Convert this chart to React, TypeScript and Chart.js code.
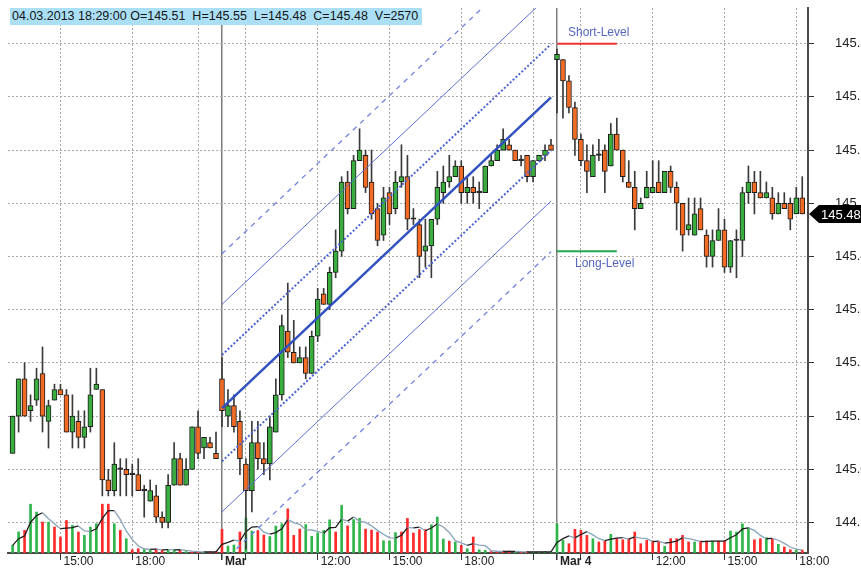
import { useEffect, useRef } from 'react';
import { Chart, registerables } from 'chart.js';

Chart.register(...registerables);

// ---- Data (15-minute bars; index 0 = Feb 28 13:00, 35 = Mar 1 08:00, 91 = Mar 4 08:00) ----
const OPEN = [
  145.03, 145.10, 145.17, 145.11, 145.13, 145.18, 145.09, 145.13, 145.15, 145.14,
  145.07, 145.09, 145.06, 145.08, 145.15, 145.15, 144.98, 144.96, 145.00, 145.00,
  144.99, 144.99, 144.96, 144.94, 144.95, 144.91, 144.90, 144.97, 145.02, 144.97,
  145.00, 145.08, 145.04, 145.05, 145.03,
  145.17, 145.10, 145.12, 145.09, 145.01, 144.96, 145.05, 145.02, 145.01, 145.07,
  145.14, 145.26, 145.22, 145.20, 145.21, 145.18, 145.25, 145.33, 145.31, 145.37,
  145.41, 145.54, 145.49, 145.58, 145.59, 145.54, 145.49, 145.44, 145.52, 145.49,
  145.54, 145.55, 145.47, 145.46, 145.41, 145.42, 145.47, 145.52, 145.54, 145.55,
  145.57, 145.52, 145.53, 145.52, 145.52, 145.57, 145.58, 145.60, 145.61, 145.60,
  145.58, 145.59, 145.55, 145.58, 145.59, 145.61,
  145.77, 145.77, 145.73, 145.68, 145.62, 145.58, 145.55, 145.59, 145.60, 145.57,
  145.63, 145.60, 145.54, 145.53, 145.49, 145.51, 145.52, 145.54, 145.52, 145.56,
  145.53, 145.50, 145.45, 145.44, 145.49, 145.44, 145.40, 145.43, 145.45, 145.38,
  145.43, 145.43, 145.52, 145.54, 145.52, 145.51, 145.51, 145.48, 145.50, 145.50,
  145.48, 145.51,
];
const HIGH = [
  145.10, 145.17, 145.20, 145.14, 145.19, 145.23, 145.13, 145.16, 145.16, 145.15,
  145.14, 145.11, 145.11, 145.19, 145.19, 145.15, 145.00, 145.05, 145.02, 145.02,
  145.01, 145.02, 144.97, 144.98, 144.97, 144.92, 144.99, 145.05, 145.03, 145.02,
  145.08, 145.11, 145.06, 145.06, 145.07,
  145.21, 145.15, 145.14, 145.11, 145.02, 145.09, 145.09, 145.05, 145.10, 145.17,
  145.29, 145.35, 145.28, 145.23, 145.23, 145.26, 145.34, 145.34, 145.38, 145.45,
  145.55, 145.56, 145.59, 145.64, 145.60, 145.60, 145.50, 145.53, 145.53, 145.56,
  145.61, 145.59, 145.49, 145.47, 145.47, 145.47, 145.56, 145.57, 145.59, 145.58,
  145.58, 145.55, 145.55, 145.54, 145.57, 145.59, 145.61, 145.64, 145.62, 145.60,
  145.59, 145.59, 145.58, 145.59, 145.61, 145.62,
  145.79, 145.77, 145.74, 145.69, 145.63, 145.61, 145.61, 145.62, 145.61, 145.65,
  145.66, 145.60, 145.58, 145.56, 145.51, 145.56, 145.58, 145.58, 145.56, 145.57,
  145.54, 145.50, 145.51, 145.51, 145.51, 145.45, 145.45, 145.49, 145.47, 145.43,
  145.45, 145.53, 145.57, 145.56, 145.56, 145.54, 145.53, 145.52, 145.52, 145.51,
  145.53, 145.55,
];
const LOW = [
  145.03, 145.07, 145.10, 145.09, 145.12, 145.07, 145.04, 145.13, 145.14, 145.07,
  145.04, 145.04, 145.04, 145.07, 145.15, 144.95, 144.95, 144.95, 144.95, 144.95,
  144.95, 144.96, 144.91, 144.94, 144.90, 144.89, 144.89, 144.97, 144.97, 144.97,
  145.00, 145.02, 145.02, 145.04, 145.02,
  145.08, 145.08, 145.07, 144.99, 144.85, 144.92, 145.00, 144.99, 144.98, 145.07,
  145.13, 145.21, 145.20, 145.20, 145.17, 145.18, 145.24, 145.31, 145.30, 145.36,
  145.40, 145.48, 145.49, 145.58, 145.52, 145.47, 145.42, 145.43, 145.46, 145.48,
  145.53, 145.45, 145.46, 145.36, 145.38, 145.36, 145.46, 145.50, 145.53, 145.55,
  145.50, 145.50, 145.50, 145.49, 145.52, 145.57, 145.58, 145.60, 145.60, 145.58,
  145.57, 145.54, 145.54, 145.58, 145.58, 145.60,
  145.67, 145.66, 145.67, 145.59, 145.57, 145.52, 145.55, 145.58, 145.52, 145.57,
  145.60, 145.54, 145.53, 145.45, 145.49, 145.51, 145.52, 145.52, 145.52, 145.52,
  145.45, 145.41, 145.44, 145.44, 145.45, 145.38, 145.38, 145.43, 145.37, 145.37,
  145.36, 145.40, 145.50, 145.48, 145.51, 145.51, 145.47, 145.48, 145.49, 145.45,
  145.48, 145.48,
];
const CLOSE = [
  145.10, 145.17, 145.10, 145.12, 145.17, 145.10, 145.12, 145.15, 145.14, 145.07,
  145.10, 145.06, 145.08, 145.14, 145.16, 144.98, 144.96, 145.01, 145.00, 144.99,
  144.99, 144.96, 144.96, 144.96, 144.91, 144.90, 144.97, 145.02, 144.97, 145.00,
  145.08, 145.03, 145.06, 145.04, 145.02,
  145.11, 145.12, 145.08, 145.02, 144.96, 145.05, 145.02, 145.01, 145.08, 145.14,
  145.27, 145.22, 145.20, 145.21, 145.18, 145.25, 145.32, 145.31, 145.37, 145.41,
  145.54, 145.49, 145.58, 145.60, 145.53, 145.48, 145.43, 145.51, 145.48, 145.54,
  145.55, 145.47, 145.47, 145.40, 145.42, 145.47, 145.53, 145.54, 145.55, 145.57,
  145.52, 145.53, 145.52, 145.52, 145.57, 145.58, 145.60, 145.62, 145.60, 145.58,
  145.58, 145.55, 145.58, 145.59, 145.60, 145.60,
  145.78, 145.73, 145.68, 145.62, 145.58, 145.56, 145.59, 145.59, 145.56, 145.63,
  145.60, 145.55, 145.53, 145.49, 145.50, 145.53, 145.53, 145.52, 145.56, 145.53,
  145.50, 145.44, 145.46, 145.48, 145.45, 145.40, 145.43, 145.45, 145.38, 145.43,
  145.43, 145.52, 145.54, 145.52, 145.51, 145.52, 145.48, 145.50, 145.49, 145.47,
  145.51, 145.48,
];
const VOLUME = [
  6600, 18100, 19500, 42100, 35300, 26700, 26700, 22400, 13800, 28100,
  23800, 18100, 15200, 22400, 25200, 42100, 42100, 25200, 19500, 12300,
  2800, 3700, 3700, 2300, 3700, 2300, 2800, 2800, 2800, 1300,
  900, 1300, 900, 900, 1300,
  20400, 6000, 6900, 18100, 30100, 18900, 19400, 15500, 14200, 23200,
  25200, 38100, 15200, 20600, 24500, 14400, 17200, 19500, 28600, 18100,
  41000, 23400, 28800, 29900, 20600, 19800, 18100, 10600, 10300, 17600,
  18100, 29800, 17200, 20200, 20200, 24300, 31000, 12000, 10300, 9500,
  6600, 3700, 13800, 2800, 2300, 1300, 900, 1700, 1700, 900,
  900, 1300, 900, 900, 1300, 900,
  25200, 10900, 8000, 20400, 19500, 15200, 12300, 9500, 10300, 16100,
  12300, 11400, 12300, 18100, 8000, 10900, 10300, 9500, 5800, 12300,
  12300, 15200, 9500, 9500, 10300, 10300, 10300, 10300, 10300, 18900,
  18100, 25200, 21800, 11400, 12300, 13200, 12300, 7500, 5200, 2800,
  2300, 2570,
];
// G = up volume (green), R = down volume (red)
const VOLUME_DIR =
  'GGRGGRGRRRGRGGGRRGRGRRGGRRGGRGRRGRR' +
  'RGGRGGRRGGGRRRGGGGGRGRGGRRRGGGRRRRRGGGRGRGRGGRRRRGRRGGGG' +
  'GGRRRRGRRGRRRRRRRRGRRRRGRRGRRGGGGRRGRGRRGR';
const VOLUME_MA_PERIOD = 3;

const LAST_BAR_TIME = '04.03.2013 18:29:00';

// x axis: tick positions (bar index) and their labels
const X_TICK_IDX = [8, 20, 31, 35, 39, 51, 63, 75, 87, 91, 95, 107, 119, 131];
const X_TICK_LABELS = ['15:00', '18:00', '', 'Mar', '', '12:00', '15:00', '18:00', '', 'Mar 4', '', '12:00', '15:00', '18:00'];
const DAY_START_IDX = [35, 91];

// y axis ticks
const Y_TICKS = [144.9, 145.0, 145.1, 145.2, 145.3, 145.4, 145.5, 145.6, 145.7, 145.8];

// regression channel (start / end bar, centre line prices, band offsets)
const CHANNEL_IDX = [35, 90];
const CHANNEL_MID = [145.115, 145.699];
const CHANNEL_INNER = 0.1;
const CHANNEL_MIDDLE = 0.195;
const CHANNEL_OUTER = 0.29;

// trade levels
const LEVEL_IDX = [91, 101];
const SHORT_LEVEL = 145.8;
const LONG_LEVEL = 145.41;

const FONT = '"Liberation Sans", Arial, Helvetica, sans-serif';

export default function App() {
  const ref = useRef<HTMLCanvasElement | null>(null);

  useEffect(() => {
    document.body.style.margin = '0';
    const canvas = ref.current;
    if (!canvas) return;
    const idx = OPEN.map((_, i) => i);

    const volumeMA = VOLUME.map((_, i) => {
      const s = VOLUME.slice(Math.max(0, i - VOLUME_MA_PERIOD + 1), i + 1);
      return s.reduce((a, b) => a + b, 0) / s.length;
    });

    const channel = (off: number) => [
      { x: CHANNEL_IDX[0], y: CHANNEL_MID[0] + off },
      { x: CHANNEL_IDX[1], y: CHANNEL_MID[1] + off },
    ];
    const lineBase = { type: 'line' as const, pointRadius: 0, fill: false, tension: 0, order: 1, yAxisID: 'y' };

    const overlay = {
      id: 'overlay',
      afterDatasetsDraw(chart: any) {
        const { ctx, scales } = chart;
        const x = scales.x;
        const y = scales.y;
        ctx.save();
        ctx.font = `12px ${FONT}`;
        ctx.fillStyle = '#5466c2';
        ctx.textAlign = 'left';
        ctx.textBaseline = 'alphabetic';
        ctx.fillText('Short-Level', x.getPixelForValue(LEVEL_IDX[0]) + 11, y.getPixelForValue(SHORT_LEVEL) - 8);
        ctx.textBaseline = 'top';
        ctx.fillText('Long-Level', x.getPixelForValue(LEVEL_IDX[0]) + 18, y.getPixelForValue(LONG_LEVEL) + 7);
        ctx.restore();
      },
      afterDraw(chart: any) {
        const { ctx, scales, chartArea } = chart;
        const last = CLOSE[CLOSE.length - 1];
        const yy = Math.round(scales.y.getPixelForValue(last));
        const x0 = chartArea.right + 1;
        ctx.save();
        ctx.fillStyle = '#000';
        ctx.beginPath();
        ctx.moveTo(x0, yy);
        ctx.lineTo(x0 + 10, yy - 9);
        ctx.lineTo(chart.width, yy - 9);
        ctx.lineTo(chart.width, yy + 9);
        ctx.lineTo(x0 + 10, yy + 9);
        ctx.closePath();
        ctx.fill();
        ctx.fillStyle = '#fff';
        ctx.font = `13px ${FONT}`;
        ctx.textBaseline = 'middle';
        ctx.textAlign = 'left';
        ctx.fillText(last.toFixed(2), x0 + 12, yy + 1);
        ctx.restore();
      },
    };

    const isDay = (c: any) => !!c.tick && DAY_START_IDX.includes(c.tick.value);

    const chart = new Chart(canvas, {
      type: 'bar',
      data: {
        datasets: [
          // channel lines
          { ...lineBase, data: channel(0), borderColor: '#3151c0', borderWidth: 2.5 },
          { ...lineBase, data: channel(CHANNEL_INNER), borderColor: '#4a62d8', borderWidth: 2, borderDash: [2, 2] },
          { ...lineBase, data: channel(-CHANNEL_INNER), borderColor: '#4a62d8', borderWidth: 2, borderDash: [2, 2] },
          { ...lineBase, data: channel(CHANNEL_MIDDLE), borderColor: '#5d70d4', borderWidth: 1 },
          { ...lineBase, data: channel(-CHANNEL_MIDDLE), borderColor: '#5d70d4', borderWidth: 1 },
          { ...lineBase, data: channel(CHANNEL_OUTER), borderColor: '#7082e0', borderWidth: 1.3, borderDash: [5, 5] },
          { ...lineBase, data: channel(-CHANNEL_OUTER), borderColor: '#7082e0', borderWidth: 1.3, borderDash: [5, 5] },
          // levels
          { ...lineBase, data: LEVEL_IDX.map((i) => ({ x: i, y: SHORT_LEVEL })), borderColor: '#f23030', borderWidth: 2 },
          { ...lineBase, data: LEVEL_IDX.map((i) => ({ x: i, y: LONG_LEVEL })), borderColor: '#22a850', borderWidth: 2 },
          // candle bodies
          {
            type: 'bar',
            data: idx.map((i) => ({ x: i, y: [OPEN[i], CLOSE[i]] })) as any,
            backgroundColor: idx.map((i) => (CLOSE[i] > OPEN[i] ? '#3aad3f' : CLOSE[i] < OPEN[i] ? '#f26b24' : '#222')),
            borderColor: '#1c1c1c',
            borderWidth: 1,
            borderSkipped: false,
            barThickness: 5,
            minBarLength: 1.5,
            grouped: false,
            order: 2,
            yAxisID: 'y',
          },
          // wicks
          {
            type: 'bar',
            data: idx.map((i) => ({ x: i, y: [LOW[i], HIGH[i]] })) as any,
            backgroundColor: '#3a3a3a',
            borderWidth: 0,
            barThickness: 1,
            grouped: false,
            order: 3,
            yAxisID: 'y',
          },
          // volume MA
          {
            type: 'line',
            data: idx.map((i) => ({ x: i, y: volumeMA[i] })),
            borderWidth: 1.3,
            pointRadius: 0,
            tension: 0,
            borderColor: '#222',
            segment: {
              borderColor: (c: any) => (c.p1.parsed.y < c.p0.parsed.y ? '#88a4ba' : '#1e1e1e'),
            },
            order: 4,
            yAxisID: 'yv',
          },
          // volume bars
          {
            type: 'bar',
            data: idx.map((i) => ({ x: i, y: VOLUME[i] })),
            backgroundColor: idx.map((i) => (VOLUME_DIR[i] === 'G' ? '#2fb64a' : '#ff2b2b')),
            borderWidth: 0,
            barThickness: 2,
            grouped: false,
            order: 6,
            yAxisID: 'yv',
          },
        ] as any,
      },
      options: {
        responsive: false,
        animation: false,
        devicePixelRatio: 1,
        events: [],
        layout: { padding: { left: 8, top: 8, right: 0, bottom: 0 } },
        plugins: { legend: { display: false }, tooltip: { enabled: false } },
        scales: {
          x: {
            type: 'linear',
            position: 'bottom',
            min: -0.77,
            max: 132.96,
            offset: false,
            afterBuildTicks: (s: any) => {
              s.ticks = X_TICK_IDX.map((v) => ({ value: v }));
            },
            afterFit: (s: any) => {
              s.height = 19;
              s.paddingLeft = 0;
              s.paddingRight = 0;
            },
            grid: {
              offset: false,
              color: (c: any) => (isDay(c) ? '#7c7c7c' : '#a9a9a9'),
              lineWidth: (c: any) => (isDay(c) ? 1.5 : 1),
              tickColor: '#333',
              tickLength: 7,
            },
            border: {
              display: true,
              color: '#4a4a4a',
              width: 2,
              dash: (c: any) => (isDay(c) ? [] : [2, 2]),
            },
            ticks: {
              autoSkip: false,
              maxRotation: 0,
              align: 'start',
              labelOffset: 3,
              padding: -6,
              color: '#222',
              font: (c: any) => ({ family: FONT, size: 12, weight: isDay(c) ? 'bold' : 'normal' }),
              callback: (v: any) => {
                const k = X_TICK_IDX.indexOf(Number(v));
                return k >= 0 ? X_TICK_LABELS[k] : '';
              },
            },
          },
          y: {
            type: 'linear',
            position: 'right',
            min: 144.8427,
            max: 145.867,
            afterBuildTicks: (s: any) => {
              s.ticks = Y_TICKS.map((v) => ({ value: v }));
            },
            afterFit: (s: any) => {
              s.width = 53;
              s.paddingTop = 0;
              s.paddingBottom = 0;
            },
            grid: {
              color: '#a9a9a9',
              lineWidth: 1,
              tickColor: '#333',
              tickLength: 6,
            },
            border: { display: true, color: '#4a4a4a', width: 2, dash: [2, 2] },
            ticks: {
              padding: 21,
              color: '#222',
              font: { family: FONT, size: 13 },
              callback: (v: any) => Number(v).toFixed(1),
            },
          },
          yv: {
            type: 'linear',
            display: false,
            min: 0,
            max: 470000,
          },
        },
      } as any,
      plugins: [overlay],
    });

    return () => chart.destroy();
  }, []);

  const n = OPEN.length - 1;
  const header = `${LAST_BAR_TIME} O=${OPEN[n].toFixed(2)}  H=${HIGH[n].toFixed(2)}  L=${LOW[n].toFixed(2)}  C=${CLOSE[n].toFixed(2)}  V=${VOLUME[n]}`;

  return (
    <div style={{ position: 'relative', width: 861, height: 572, background: '#fff' }}>
      <canvas ref={ref} width={861} height={572} style={{ display: 'block' }} />
      <div
        style={{
          position: 'absolute',
          left: 10,
          top: 8,
          height: 17,
          lineHeight: '17px',
          padding: '0 4px 0 2px',
          background: '#aadff5',
          color: '#151515',
          fontFamily: FONT,
          fontSize: 12.5,
          whiteSpace: 'pre',
        }}
      >
        {header}
      </div>
    </div>
  );
}
